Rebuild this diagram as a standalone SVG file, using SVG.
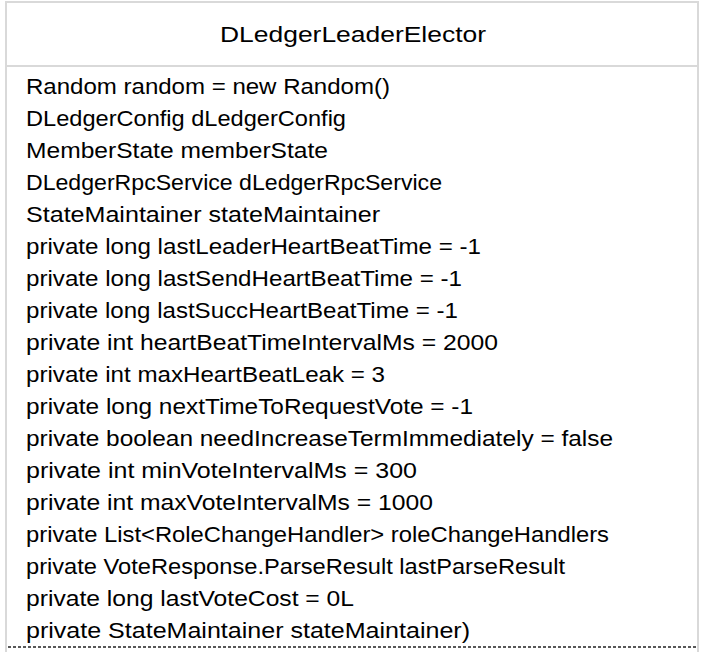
<svg xmlns="http://www.w3.org/2000/svg" width="705" height="664" viewBox="0 0 705 664">
<style>
.t{font-family:"Liberation Sans",Arial,sans-serif;font-size:22px;fill:#000}
.b{stroke:#d9d9d9;stroke-width:2;fill:none}
</style>
<rect width="705" height="664" fill="#fff"/>
<g id="class-DLedgerLeaderElector">
<path class="b" d="M6 652 V2 H698 V652"/>
<line class="b" x1="6" y1="66" x2="698" y2="66"/>
<text class="t" x="353" y="42" text-anchor="middle" textLength="266" lengthAdjust="spacingAndGlyphs">DLedgerLeaderElector</text>
<text class="t" x="26" y="94" textLength="364" lengthAdjust="spacingAndGlyphs">Random random = new Random()</text>
<text class="t" x="26" y="126" textLength="320" lengthAdjust="spacingAndGlyphs">DLedgerConfig dLedgerConfig</text>
<text class="t" x="26" y="158" textLength="302" lengthAdjust="spacingAndGlyphs">MemberState memberState</text>
<text class="t" x="26" y="190" textLength="416" lengthAdjust="spacingAndGlyphs">DLedgerRpcService dLedgerRpcService</text>
<text class="t" x="26" y="222" textLength="354" lengthAdjust="spacingAndGlyphs">StateMaintainer stateMaintainer</text>
<text class="t" x="26" y="254" textLength="455" lengthAdjust="spacingAndGlyphs">private long lastLeaderHeartBeatTime = -1</text>
<text class="t" x="26" y="286" textLength="436" lengthAdjust="spacingAndGlyphs">private long lastSendHeartBeatTime = -1</text>
<text class="t" x="26" y="318" textLength="432" lengthAdjust="spacingAndGlyphs">private long lastSuccHeartBeatTime = -1</text>
<text class="t" x="26" y="350" textLength="472" lengthAdjust="spacingAndGlyphs">private int heartBeatTimeIntervalMs = 2000</text>
<text class="t" x="26" y="382" textLength="359" lengthAdjust="spacingAndGlyphs">private int maxHeartBeatLeak = 3</text>
<text class="t" x="26" y="414" textLength="447" lengthAdjust="spacingAndGlyphs">private long nextTimeToRequestVote = -1</text>
<text class="t" x="26" y="446" textLength="587" lengthAdjust="spacingAndGlyphs">private boolean needIncreaseTermImmediately = false</text>
<text class="t" x="26" y="478" textLength="391" lengthAdjust="spacingAndGlyphs">private int minVoteIntervalMs = 300</text>
<text class="t" x="26" y="510" textLength="407" lengthAdjust="spacingAndGlyphs">private int maxVoteIntervalMs = 1000</text>
<text class="t" x="26" y="542" textLength="583" lengthAdjust="spacingAndGlyphs">private List&lt;RoleChangeHandler&gt; roleChangeHandlers</text>
<text class="t" x="26" y="574" textLength="539" lengthAdjust="spacingAndGlyphs">private VoteResponse.ParseResult lastParseResult</text>
<text class="t" x="26" y="606" textLength="328" lengthAdjust="spacingAndGlyphs">private long lastVoteCost = 0L</text>
<text class="t" x="26" y="638" textLength="444" lengthAdjust="spacingAndGlyphs">private StateMaintainer stateMaintainer)</text>
<line x1="8" y1="647" x2="697" y2="647" stroke="#222" stroke-width="1.5" stroke-dasharray="3 2"/>
</g>
</svg>
